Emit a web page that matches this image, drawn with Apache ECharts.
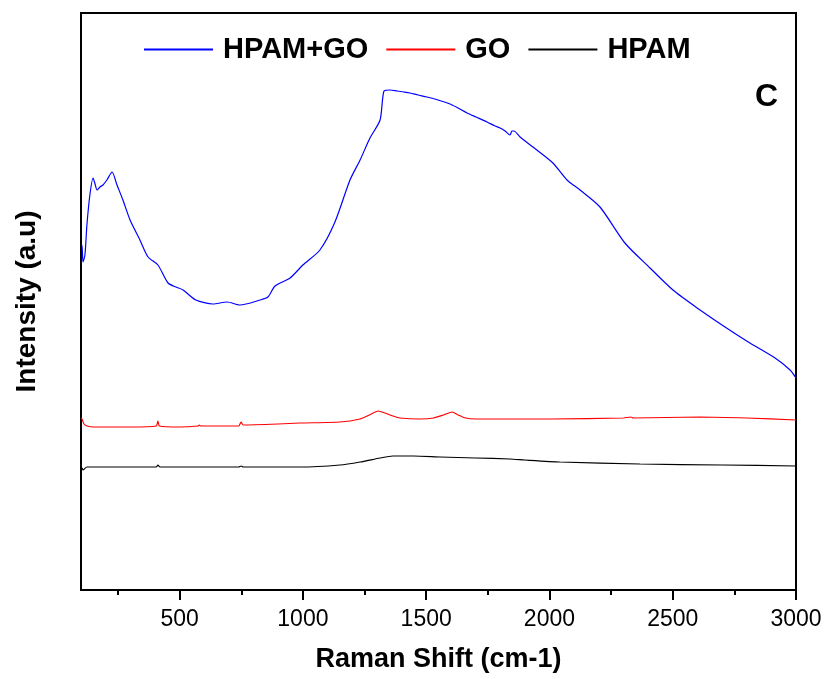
<!DOCTYPE html>
<html>
<head>
<meta charset="utf-8">
<script src="https://cdn.jsdelivr.net/npm/echarts@6/dist/echarts.min.js"></script>
<style>html,body{margin:0;padding:0;background:#fff}#c{width:827px;height:679px}</style>
</head>
<body>
<div id="c"></div>
<script>
// Raman shift (cm-1) and intensity (a.u.)
const hpamGoShift = [100,104,108,116,124,136,149,157,165,177,189,205,226,246,270,299,339,372,412,453,485,514,566,635,692,745,826,858,887,948,1000,1069,1130,1191,1232,1272,1313,1329,1353,1382,1410,1434,1467,1503,1548,1597,1629,1666,1702,1747,1779,1800,1820,1840,1848,1856,1881,1933,2014,2071,2124,2205,2306,2408,2501,2611,2712,2813,2915,2976,3000];
const hpamGoValue = [345,345,328,335,365,395,412,406,400,403,405,410,418,405,390,370,350,333,325,307,303,300,290,286,288,285,290,293,304,312,325,340,368,410,430,452,470,499,500,499,498,497,495,493,490,486,482,477,473,468,464,462,459,455,459,459,453,443,427,410,400,383,347,322,300,280,263,247,232,220,212];

const goShift = [100,104,112,125,150,300,405,412,418,500,575,580,585,740,749,758,900,988,1150,1232,1270,1305,1333,1365,1394,1475,1530,1570,1605,1630,1660,1700,2000,2300,2330,2340,2611,2800,3000];
const goValue = [172,171,166,164,163,163,164,169,164,163,164,165,164,164,168,165,166,167,168,171,175,179,177,174,172,171,172,175,178,175,172,171,171,172,173,172,173,172,170];

const hpamShift = [100,104,108,124,150,300,405,412,420,740,749,758,988,1150,1232,1313,1365,1450,1556,1700,1840,1900,2043,2367,2700,3000];
const hpamValue = [122,122,120,123,123,123,123,125,123,123,124,123,123,125,128,132,134,134,133,132,131,130,128,126,125,124];

const majorTicks = [500,1000,1500,2000,2500,3000];
const minorTicks = [250,750,1250,1750,2250,2750];
const seriesNames = ['HPAM+GO','GO','HPAM'];
const seriesColors = ['#0000ff','#ff0000','#000000'];

function pairs(xs, ys){ return xs.map((x,i)=>[x, ys[i]]); }
const FONT = "'Liberation Sans', Arial, sans-serif";

const chart = echarts.init(document.getElementById('c'), null, {renderer:'canvas'});
chart.setOption({
  animation:false,
  backgroundColor:'#fff',
  title:{text:'C', left:750, top:76, textStyle:{fontFamily:FONT, fontSize:32, fontWeight:'bold', color:'#000'}},
  legend:{
    left:143, top:35, padding:0, itemWidth:69, itemHeight:14, itemGap:17,
    data:seriesNames,
    lineStyle:{width:2},
    itemStyle:{opacity:0, borderWidth:0},
    textStyle:{fontFamily:FONT, fontSize:29, fontWeight:'bold', color:'#000', padding:[0,0,0,5]}
  },
  grid:{left:81, right:31, top:13, bottom:89, show:true, borderColor:'#000', borderWidth:2, backgroundColor:'transparent'},
  xAxis:[{
    type:'value', min:100, max:3000,
    name:'Raman Shift (cm-1)', nameLocation:'middle', nameGap:56,
    nameTextStyle:{fontFamily:FONT, fontSize:27, fontWeight:'bold', color:'#000'},
    axisLine:{lineStyle:{color:'#000', width:2}},
    axisTick:{customValues:majorTicks, length:10, lineStyle:{color:'#000', width:2}},
    axisLabel:{customValues:majorTicks, margin:18, fontFamily:FONT, fontSize:23, color:'#000', formatter:(v)=>String(v)},
    splitLine:{show:false}
  },{
    type:'value', min:100, max:3000, position:'bottom',
    axisLine:{show:false},
    axisTick:{customValues:minorTicks, length:5, lineStyle:{color:'#000', width:2}},
    axisLabel:{show:false},
    splitLine:{show:false}
  }],
  yAxis:{
    type:'value', min:0, max:577,
    name:'Intensity (a.u)', nameLocation:'middle', nameGap:40,
    nameTextStyle:{fontFamily:FONT, fontSize:28, fontWeight:'bold', color:'#000'},
    axisLine:{show:true, lineStyle:{color:'#000', width:2}},
    axisTick:{show:false}, axisLabel:{show:false}, splitLine:{show:false}
  },
  series:[
    {name:seriesNames[0], type:'line', data:pairs(hpamGoShift,hpamGoValue), symbol:'none', smooth:0.25, color:seriesColors[0], lineStyle:{width:1.2, color:seriesColors[0]}},
    {name:seriesNames[1], type:'line', data:pairs(goShift,goValue), symbol:'none', smooth:0.2, color:seriesColors[1], lineStyle:{width:1.2, color:seriesColors[1]}},
    {name:seriesNames[2], type:'line', data:pairs(hpamShift,hpamValue), symbol:'none', smooth:0.2, color:seriesColors[2], lineStyle:{width:1.2, color:seriesColors[2]}}
  ]
});
</script>
</body>
</html>
